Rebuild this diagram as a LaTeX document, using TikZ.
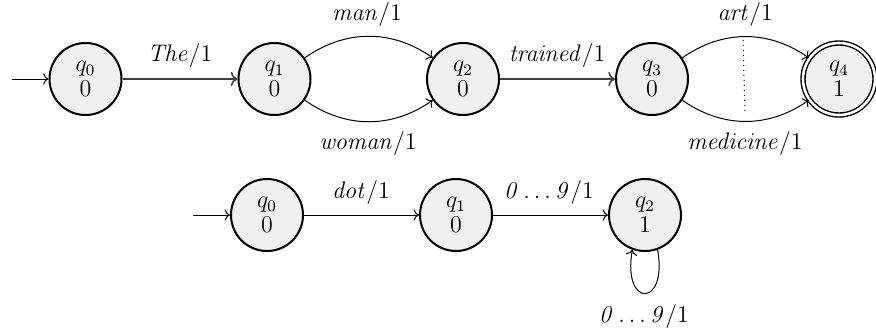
\documentclass[tikz,border=0pt]{standalone}
\usetikzlibrary{arrows.meta}
\begin{document}
\begin{tikzpicture}[x=0.5pt,y=-0.5pt,
  every node/.style={font=\fontsize{12}{12.5}\selectfont},
  state/.style={circle,draw,line width=1pt,fill=black!6,minimum size=36pt,inner sep=0pt,align=center},
  accept/.style={state,double,double distance=1.3pt,line width=0.7pt},
  edge/.style={->,line width=0.5pt},
  lbl/.style={inner sep=0pt}]
\useasboundingbox (0,0) rectangle (876,334);
% top row
\node[state] (a0) at (85.5,79) {$q_0$\\$0$};
\node[state] (a1) at (274.5,79) {$q_1$\\$0$};
\node[state] (a2) at (463,79) {$q_2$\\$0$};
\node[state] (a3) at (652,79) {$q_3$\\$0$};
\node[accept] (a4) at (839,79) {$q_4$\\$1$};
\coordinate (ia) at (12,79);
\draw[edge] (ia) -- (a0);
\draw[edge,black!75,line width=0.8pt] (a0) -- (a1);
\node[lbl] (lThe) at (180,55) {$\mathit{The}/1$};
\draw[edge] (a1) to[bend left=35] (a2);
\draw[edge] (a1) to[bend right=35] (a2);
\node[lbl] (lman) at (367,14) {$\mathit{man}/1$};
\node[lbl] (lwoman) at (368,143) {$\mathit{woman}/1$};
\draw[edge,black!75,line width=0.8pt] (a2) -- (a3);
\node[lbl] (ltrained) at (557,55) {$\mathit{trained}/1$};
\draw[edge] (a3) to[bend left=35] (a4);
\draw[edge] (a3) to[bend right=35] (a4);
\node[lbl] (lart) at (745,14) {$\mathit{art}/1$};
\node[lbl] (lmed) at (745,143) {$\mathit{medicine}/1$};
\coordinate (dt) at (743,40);
\coordinate (db) at (745,113);
\draw[dotted,line width=0.5pt] (dt) -- (db);
% bottom row
\node[state] (b0) at (267,215) {$q_0$\\$0$};
\node[state] (b1) at (456,215) {$q_1$\\$0$};
\node[state] (b2) at (645,215) {$q_2$\\$1$};
\coordinate (ib) at (193,215);
\draw[edge] (ib) -- (b0);
\draw[edge] (b0) -- (b1);
\node[lbl] (ldot) at (361,192) {$\mathit{dot}/1$};
\draw[edge] (b1) -- (b2);
\node[lbl] (l09) at (549,192) {$\mathit{0\ldots9}/1$};
\draw[edge] (b2.-70) to[out=-80,in=-100,looseness=6] (b2.-110);
\node[lbl] (l09b) at (644,316) {$\mathit{0\ldots9}/1$};
\end{tikzpicture}
\end{document}
